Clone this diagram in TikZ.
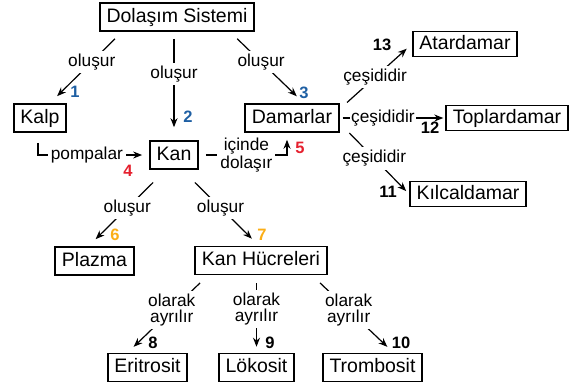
\documentclass[tikz,border=0pt]{standalone}
\usepackage{fontspec}
\setmainfont{Liberation Sans}
\usetikzlibrary{arrows.meta}

\definecolor{numblue}{HTML}{1E5FA3}
\definecolor{numred}{HTML}{E5202E}
\definecolor{numorange}{HTML}{FBAE17}

\newcommand{\bxfont}{\fontsize{19.5}{22}\selectfont}
\newcommand{\lbfont}{\fontsize{17.3}{16}\selectfont}
\newcommand{\nmfont}{\fontsize{16.5}{18}\selectfont\bfseries}

\tikzset{
  box/.style={draw, line width=1.6pt, inner xsep=6.7pt, inner ysep=0pt,
    text height=14pt, text depth=4pt, minimum height=28pt, font=\bxfont},
  lbl/.style={fill=white, inner sep=3pt, align=center, font=\lbfont},
  con/.style={line width=1.2pt, ->},
  num/.style={inner sep=0pt, font=\nmfont}
}

\begin{document}
\begin{tikzpicture}[x=1pt, y=-1pt, >={Stealth[length=9pt,width=7pt]}]
  \useasboundingbox (0,0) rectangle (584,389);

  %Draw boxes
  \node[box] (sys)  at (177,17)     {Dolaşım Sistemi};
  \node[box] (kalp) at (40,118)     {Kalp};
  \node[box] (kan)  at (174,155)    {Kan};
  \node[box] (dam)  at (292,118)    {Damarlar};
  \node[box, minimum height=25pt] (atar) at (465,44)  {Atardamar};
  \node[box, minimum height=25pt] (topl) at (507,118) {Toplardamar};
  \node[box, minimum height=25pt] (kilc) at (468,194) {Kılcaldamar};
  \node[box] (plaz) at (94.5,261)   {Plazma};
  \node[box] (kh)   at (261,260.5)  {Kan Hücreleri};
  \node[box] (erit) at (147.5,367.5) {Eritrosit};
  \node[box] (lok)  at (256.5,367.5) {Lökosit};
  \node[box] (trom) at (372.5,367.5) {Trombosit};

  %Draw connectors from Dolasim Sistemi
  \draw[con, shorten <=10pt, shorten >=10pt] ([xshift=-55pt]sys.south)
    -- node[lbl, pos=0.42]{oluşur} ([xshift=10pt]kalp.north);
  \draw[con, shorten <=7pt, shorten >=13pt] (kan.north |- sys.south)
    -- node[lbl, pos=0.39]{oluşur} (kan.north);
  \draw[con, shorten <=10pt, shorten >=10pt] ([xshift=53pt]sys.south)
    -- node[lbl, pos=0.42]{oluşur} ([xshift=12pt]dam.north);

  %Draw pompalar and icinde dolasir
  \draw[con, shorten >=7pt] ([xshift=-2pt, yshift=-10pt]kalp.south)
    |- node[lbl, pos=0.72]{pompalar} (kan.west);
  \draw[con, shorten <=7pt, shorten >=7pt] (kan.east)
    -| node[lbl, pos=0.27]{içinde\\dolaşır} ([xshift=-5pt]dam.south);

  %Draw connectors from Damarlar
  \draw[con, shorten <=10pt, shorten >=7pt] ([yshift=-6pt]dam.north east)
    -- node[lbl, pos=0.49]{çeşididir} (atar.west);
  \draw[con, shorten <=3pt, shorten >=2pt] (dam.east)
    -- node[lbl, pos=0.41, inner xsep=1pt]{çeşididir} (topl.west);
  \draw[con, shorten <=14pt, shorten >=4pt] ([yshift=-5pt]dam.east)
    -- node[lbl, pos=0.5]{çeşididir} (kilc.west);

  %Draw connectors from Kan
  \draw[con, shorten <=18pt, shorten >=10pt] ([xshift=-8pt]kan.south)
    -- node[lbl, pos=0.5]{oluşur} ([xshift=-6pt]plaz.north);
  \draw[con, shorten <=18pt, shorten >=10pt] ([xshift=8pt]kan.south)
    -- node[lbl, pos=0.5]{oluşur} ([xshift=-2pt]kh.north);

  %Draw connectors from Kan Hucreleri
  \draw[con, shorten <=11pt, shorten >=8.5pt] ([xshift=-53pt]kh.south)
    -- node[lbl, pos=0.45]{olarak\\ayrılır} ([xshift=-20pt]erit.north);
  \draw[con, shorten <=8pt, shorten >=6pt] (lok.north |- kh.south)
    -- node[lbl, pos=0.44]{olarak\\ayrılır} (lok.north);
  \draw[con, shorten <=11pt, shorten >=8.5pt] ([xshift=51pt]kh.south)
    -- node[lbl, pos=0.45]{olarak\\ayrılır} ([xshift=21pt]trom.north);

  %Draw numbers
  \node[num, numblue]   (n1)  at (75,92)   {1};
  \node[num, numblue]   (n2)  at (188,117) {2};
  \node[num, numblue]   (n3)  at (304,93)  {3};
  \node[num, numred]    (n4)  at (128,171) {4};
  \node[num, numred]    (n5)  at (300,148) {5};
  \node[num, numorange] (n6)  at (115,235) {6};
  \node[num, numorange] (n7)  at (262,235) {7};
  \node[num] (n8)  at (153,343) {8};
  \node[num] (n9)  at (270,343) {9};
  \node[num] (n10) at (401,343) {10};
  \node[num] (n11) at (388,192) {11};
  \node[num] (n12) at (430,128) {12};
  \node[num] (n13) at (382,45)  {13};
\end{tikzpicture}
\end{document}
